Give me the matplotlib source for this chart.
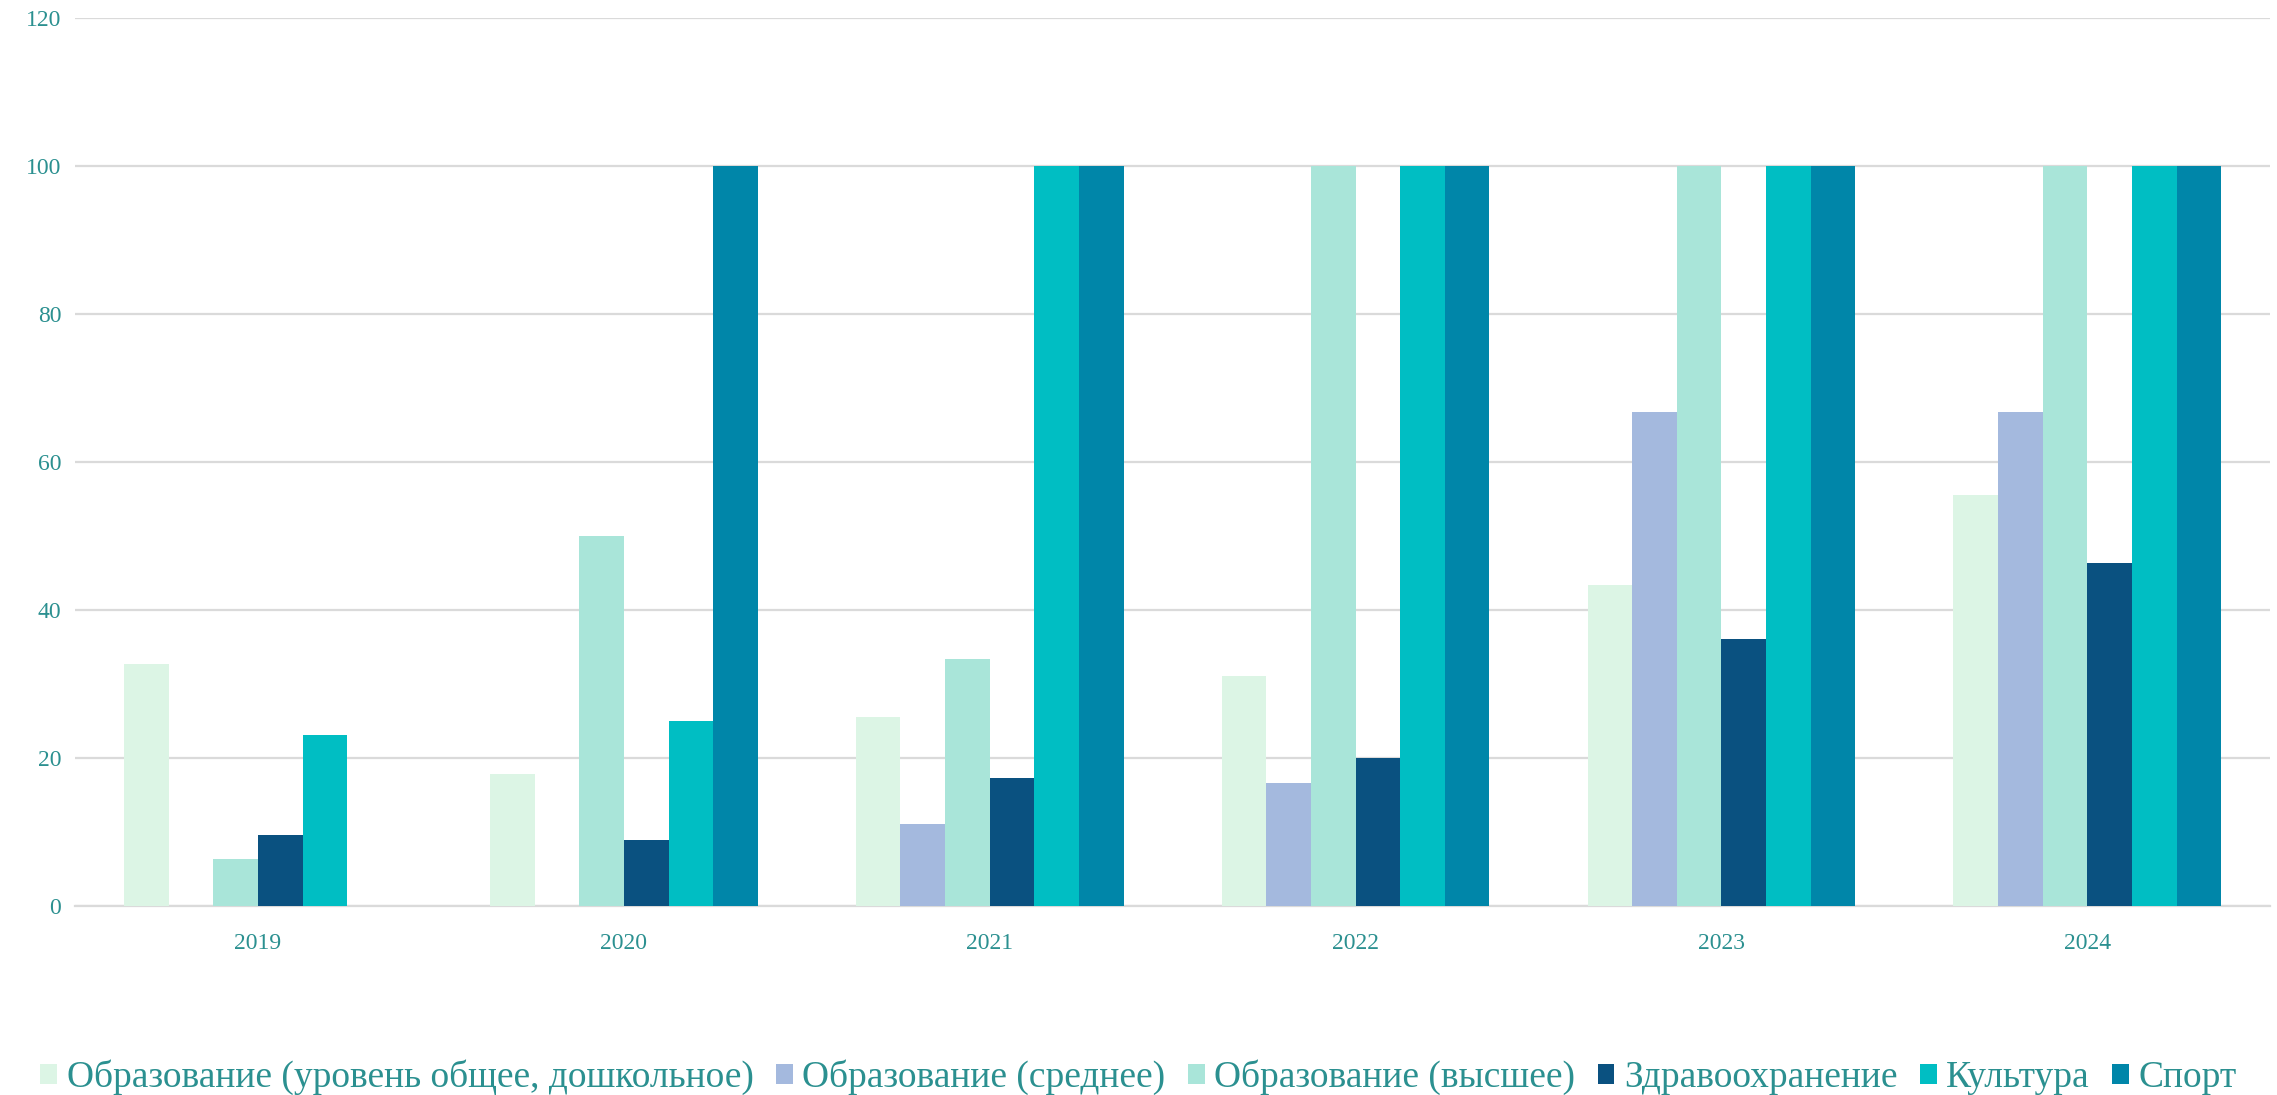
import numpy as np
import matplotlib
matplotlib.use("Agg")
import matplotlib.pyplot as plt

years = ["2019", "2020", "2021", "2022", "2023", "2024"]
series_names = [
    "Образование (уровень общее, дошкольное)",
    "Образование (среднее)",
    "Образование (высшее)",
    "Здравоохранение",
    "Культура",
    "Спорт",
]
preschool = [32.7, 17.8, 25.5, 31.0, 43.3, 55.5]
secondary = [0, 0, 11.0, 16.5, 66.7, 66.7]
higher = [6.3, 50.0, 33.3, 100, 100, 100]
health = [9.6, 8.8, 17.3, 20.0, 36.0, 46.3]
culture = [23.0, 25.0, 100, 100, 100, 100]
sport = [0, 100, 100, 100, 100, 100]

COLORS = ["#DCF5E5", "#A4B9DE", "#A9E5D9", "#0A5180", "#00BEC3", "#0086A9"]
TEXT = "#2B9090"

plt.rcParams["font.family"] = ["Liberation Serif", "DejaVu Serif"]

fig = plt.figure(figsize=(22.77, 10.95), dpi=100)
ax = fig.add_axes([0.033, 0.173, 0.964, 0.811])

x = np.arange(len(years))
width = 0.122
all_series = [preschool, secondary, higher, health, culture, sport]
for i, (name, vals) in enumerate(zip(series_names, all_series)):
    offset = (i - 2.5) * width
    ax.bar(x + offset, vals, width, color=COLORS[i], label=name, zorder=3)

ax.set_xlim(-0.5, 5.5)
ax.set_ylim(0, 120)
ax.set_yticks(range(0, 121, 20))
ax.set_xticks(x)
ax.set_xticklabels(years)
ax.tick_params(axis="both", length=0, labelsize=17, colors=TEXT)
ax.tick_params(axis="x", pad=20)
ax.tick_params(axis="y", pad=10)
ax.grid(axis="y", color="#DADADA", linewidth=1.6, zorder=0)
for side in ["top", "right", "left"]:
    ax.spines[side].set_visible(False)
ax.spines["bottom"].set_color("#DADADA")
ax.spines["bottom"].set_linewidth(1.6)

leg = fig.legend(
    loc="center",
    bbox_to_anchor=(0.5, 0.016),
    ncol=6,
    frameon=False,
    fontsize=27,
    borderpad=0.1,
    handlelength=0.45,
    handleheight=0.45,
    handletextpad=0.25,
    columnspacing=0.6,
)
for t in leg.get_texts():
    t.set_color(TEXT)

fig.savefig("out.png", dpi=100)
